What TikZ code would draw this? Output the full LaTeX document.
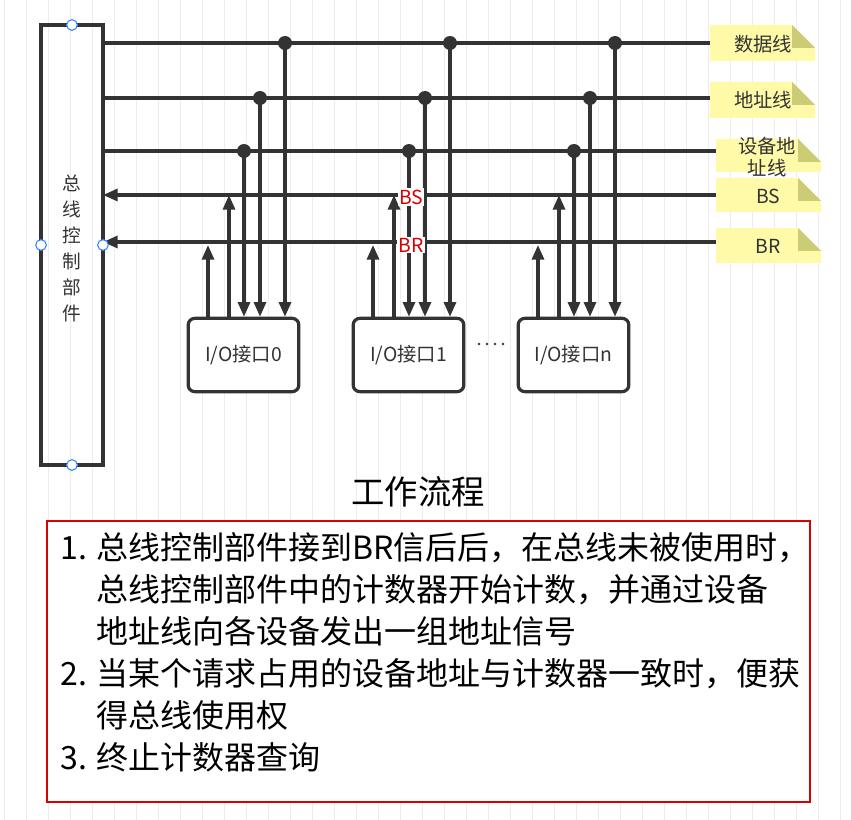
\documentclass[tikz,border=0pt]{standalone}
\usepackage{fontspec}
\setmainfont{Noto Sans CJK SC}
\usetikzlibrary{arrows.meta}
\definecolor{ln}{HTML}{333333}
\definecolor{noteY}{HTML}{FFFAA8}
\definecolor{noteF}{HTML}{CCCC77}
\definecolor{hb}{HTML}{3388FF}
\begin{document}
\begin{tikzpicture}[x=0.75pt,y=-0.75pt,
  wire/.style={draw=ln,line width=2.4pt},
  arr/.style={wire,-{Triangle[width=9pt,length=11pt]}},
  dotc/.style={circle,fill=ln,inner sep=0pt,minimum size=10.5pt},
  iobox/.style={draw=ln,line width=2.4pt,rounded corners=5pt,minimum width=83pt,minimum height=55pt,font=\fontsize{14.5}{16}\selectfont,text=ln,fill=white},
  handle/.style={circle,draw=hb,fill=white,line width=0.8pt,minimum size=8pt,inner sep=0pt},
  redlbl/.style={fill=white,text=red!85!black,inner sep=1pt,font=\fontsize{14.5}{16}\selectfont},
  notetxt/.style={font=\fontsize{14.5}{17}\selectfont,text=ln,align=center,inner sep=0pt}]
\useasboundingbox (0,0) rectangle (851,820);
\fill[white] (0,0) rectangle (851,820);
\draw[gray!14,line width=0.7pt,shift={(4,0)}] (0,0) grid[step=22] (851,820);
% notes
\newcommand\notebox[3]{%
  \fill[noteY] (#1,#2) -- (#1+82,#2) -- (#1+105,#2+23) -- (#1+105,#3) -- (#1,#3) -- cycle;
  \fill[noteF] (#1+82,#2) -- (#1+105,#2+23) -- (#1+82,#2+23) -- cycle;}
\notebox{710}{25}{61}
\notebox{710}{82}{118}
\notebox{716}{139}{172}
\notebox{716}{178}{212}
\notebox{716}{228}{263}
\node[notetxt] (ndata) at (763,44) {数据线};
\node[notetxt] (naddr) at (763,100) {地址线};
\node[notetxt,font=\fontsize{14.5}{16}\selectfont] (ndev) at (767,157) {设备地\\址线};
\node[notetxt] (nbs) at (768,196) {BS};
\node[notetxt] (nbr) at (768,246) {BR};
% bus controller
\node[draw=ln,line width=2.4pt,minimum width=46.5pt,minimum height=330pt,inner sep=0pt] (ctrl) at (72,245) {};
\node[text=ln,font=\fontsize{14}{19.5}\selectfont,align=center] (ctrltxt) at (72,248) {总\\线\\控\\制\\部\\件};
% line endpoints
\coordinate (dL) at (103,43); \coordinate (dR) at (710,43);
\coordinate (aL) at (103,98); \coordinate (aR) at (710,98);
\coordinate (vL) at (103,151); \coordinate (vR) at (716,151);
\coordinate (sL) at (103,195); \coordinate (sR) at (716,195);
\coordinate (rL) at (103,242); \coordinate (rR) at (716,242);
\draw[wire] (dL) -- (dR);
\draw[wire] (aL) -- (aR);
\draw[wire] (vL) -- (vR);
\draw[arr] (sR) -- (sL);
\draw[arr] (rR) -- (rL);
% interfaces
\foreach \i/\o/\lab in {0/0/0,1/165/1,2/330/n}{
  \node[iobox] (io\i) at (243.5+\o,355) {I/O接口\lab};
  \coordinate (br\i) at (208+\o,245);
  \coordinate (bs\i) at (229+\o,195);
  \coordinate (dv\i) at (244+\o,151);
  \coordinate (ad\i) at (260+\o,98);
  \coordinate (da\i) at (285+\o,43);
  \draw[arr] (br\i |- io\i.north) -- (br\i);
  \draw[arr] (bs\i |- io\i.north) -- (bs\i);
  \draw[arr] (dv\i) -- (dv\i |- io\i.north);
  \draw[arr] (ad\i) -- (ad\i |- io\i.north);
  \draw[arr] (da\i) -- (da\i |- io\i.north);
  \node[dotc] at (dv\i) {};
  \node[dotc] at (ad\i) {};
  \node[dotc] at (da\i) {};
}
\node[redlbl] (lbs) at (411,197) {BS};
\node[redlbl] (lbr) at (411,245) {BR};
\foreach \x in {479,487,495,503} \fill[ln] (\x,344) circle (1.3);
% handles
\node[handle] at (72,25) {};
\node[handle] at (72,465) {};
\node[handle] at (41,245) {};
\node[handle] at (103,245) {};
% workflow
\node[font=\fontsize{25}{28}\selectfont,text=black] (title) at (418,492) {工作流程};
\draw[red!85!black,line width=1.3pt,fill=white] (47,521) rectangle (810,802);
\node[anchor=north west,align=left,font=\fontsize{24}{31.5}\selectfont,text=black,inner sep=0pt] (steps) at (60,532) {1. 总线控制部件接到BR信后后，在总线未被使用时，\\
\hphantom{1. }总线控制部件中的计数器开始计数，并通过设备\\
\hphantom{1. }地址线向各设备发出一组地址信号\\
2. 当某个请求占用的设备地址与计数器一致时，便获\\
\hphantom{2. }得总线使用权\\
3. 终止计数器查询};
\end{tikzpicture}
\end{document}
